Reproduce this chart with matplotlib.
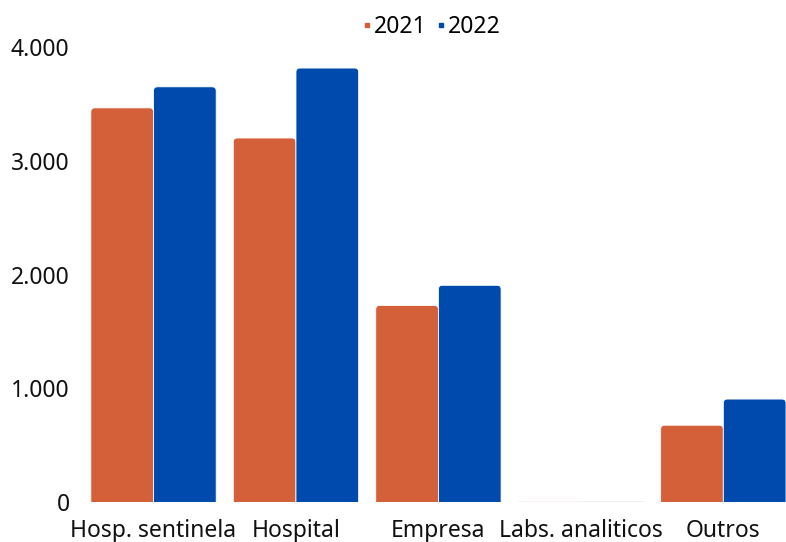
import matplotlib
matplotlib.use("Agg")
import matplotlib.pyplot as plt
from matplotlib.lines import Line2D
from matplotlib.patches import FancyBboxPatch
import numpy as np

categories = ["Hosp. sentinela", "Hospital", "Empresa", "Labs. analiticos", "Outros"]
series_names = ["2021", "2022"]
values_2021 = [3465, 3200, 1728, 8, 675]
values_2022 = [3650, 3815, 1905, 10, 905]
y_ticks = [0, 1000, 2000, 3000, 4000]
y_tick_labels = ["0", "1.000", "2.000", "3.000", "4.000"]

colors = ["#D4603A", "#0049AD"]

plt.rcParams["font.family"] = ["Noto Sans", "DejaVu Sans"]

fig = plt.figure(figsize=(7.86, 5.42), dpi=100)
ax = fig.add_axes([82 / 786, 40 / 542, 1 - 82 / 786, 455 / 542])

ax.set_xlim(-0.502, 4.44)
ax.set_ylim(0, 4000)

x = np.arange(len(categories))
w = 0.44
bars = []
bars += list(ax.bar(x - w / 2, values_2021, width=w, color=colors[0], edgecolor="white", linewidth=0.6))
bars += list(ax.bar(x + w / 2, values_2022, width=w, color=colors[1], edgecolor="white", linewidth=0.6))

# Soften the top corners of each bar with a small rounded box
fig.canvas.draw()
px_x = ax.transData.transform((1, 0))[0] - ax.transData.transform((0, 0))[0]
px_y = ax.transData.transform((0, 1))[1] - ax.transData.transform((0, 0))[1]
radius_px = 4
for b in bars:
    h = b.get_height()
    if h * px_y < 2 * radius_px:
        continue
    bx, by, bw = b.get_x(), b.get_y(), b.get_width()
    r = radius_px / px_x
    patch = FancyBboxPatch((bx + r, by - 200), bw - 2 * r, h + 200 - r * px_x / px_y,
                           boxstyle=f"round,pad={r},rounding_size={r}",
                           mutation_aspect=px_x / px_y,
                           facecolor=b.get_facecolor(), edgecolor="white", linewidth=0.6,
                           clip_on=True)
    b.remove()
    ax.add_patch(patch)

ax.set_xticks(x)
ax.set_xticklabels(categories, fontsize=16.5, color="#111111")
ax.set_yticks(y_ticks)
ax.set_yticklabels(y_tick_labels, fontsize=16.5, color="#111111")
ax.tick_params(axis="both", length=0)
ax.tick_params(axis="y", pad=9)
ax.tick_params(axis="x", pad=12)
for s in ax.spines.values():
    s.set_visible(False)

handles = [Line2D([], [], linestyle="none", marker="s", markersize=2.5,
                  markerfacecolor=c, markeredgecolor=c) for c in colors]
fig.legend(handles, series_names, loc="center", bbox_to_anchor=(432 / 786, 1 - 27 / 542),
           ncol=2, frameon=False, fontsize=16.5, handlelength=0.3, handletextpad=0.15,
           columnspacing=0.5)

fig.savefig("out.png", dpi=100)
